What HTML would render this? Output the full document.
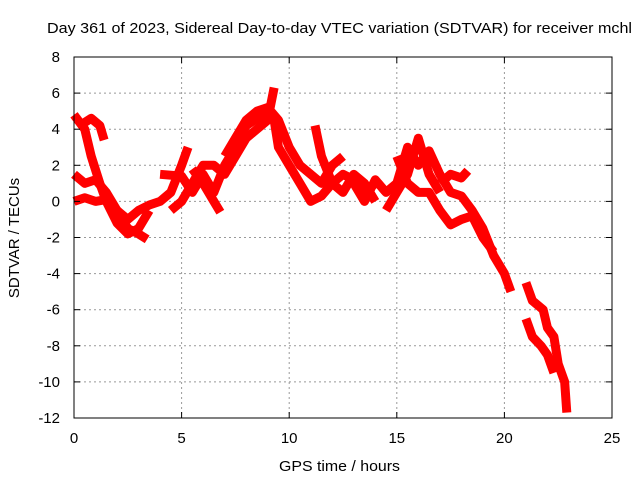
<!DOCTYPE html>
<html><head><meta charset="utf-8"><style>
body{margin:0;background:#fff}
svg{display:block;font-family:"Liberation Sans",sans-serif}
</style></head><body>
<svg id="chart" width="640" height="480">
<rect width="640" height="480" fill="#fff"/>
<g id="grid"></g>
<g id="series"></g>
<rect x="74" y="57" width="538" height="361" fill="none" stroke="#000" stroke-width="1"/>
<g id="ticks"></g>
<text x="47" y="33" textLength="585" lengthAdjust="spacingAndGlyphs" font-size="15">Day 361 of 2023, Sidereal Day-to-day VTEC variation (SDTVAR) for receiver mchl</text>
<text x="279" y="471" textLength="121" lengthAdjust="spacingAndGlyphs" font-size="15">GPS time / hours</text>
<text x="19" y="238" text-anchor="middle" font-size="15" transform="rotate(-90 19 238)">SDTVAR / TECUs</text>
</svg>
<script>
const xTicks=[0,5,10,15,20,25];
const yTicks=[8,6,4,2,0,-2,-4,-6,-8,-10,-12];
const arcA=[[0,4.8],[0.5,4],[0.8,2.5],[1.2,1],[1.5,0],[2,-1.2],[2.5,-1.8],[3,-1.5],[3.5,-0.5]];
const arcB=[[0.4,4.3],[0.8,4.6],[1.2,4.2],[1.4,3.4]];
const arcC=[[0,1.5],[0.5,1],[1,1.2],[1.5,0.5],[2,-0.5],[2.5,-1.5],[3,-1.8],[3.4,-2.1]];
const arcD=[[0,0],[0.5,0.2],[1,0],[1.5,0.1],[2,-0.5],[2.5,-1],[3,-0.5],[3.5,-0.2],[4,0],[4.5,0.5],[5,2],[5.3,3]];
const arcE=[[4,1.5],[5,1.4],[5.5,0.5],[6,1.5],[6.5,0.5],[7,2],[7.5,3],[8,4.2],[8.5,4.6],[9,4.8],[9.3,4.5],[9.5,3],[10,2],[10.5,1],[11,0],[11.5,0.3],[12,1],[12.5,1.5],[13,1.2],[13.5,0.5],[14,1]];
const arcF=[[4.5,-0.5],[5,0],[5.5,1],[6,2],[6.5,2],[7,1.5],[7.5,2.5],[8,3.5],[8.5,4],[9,4.5],[9.3,6.3]];
const arcG=[[5.5,1.8],[6,1],[6.5,0],[6.8,-0.6]];
const arcH=[[7,2.5],[7.5,3.5],[8,4.5],[8.5,5],[9,5.2],[9.5,4.5],[10,3],[10.5,2],[11,1.5],[11.5,1],[12,2],[12.5,2.5]];
const arcI=[[11.2,4.2],[11.5,2.5],[12,1],[12.5,0.5],[13,1.5],[13.5,1],[14,0]];
const arcJ=[[13,1],[13.5,0],[14,1.2],[14.5,0.5],[15,1],[15.5,3],[16,2],[16.5,2.8],[17,1.5],[17.5,0.5],[18,0.3],[18.5,-0.5],[19,-1.5],[19.5,-3],[20,-4],[20.3,-5]];
const arcK=[[15,2.5],[15.5,1],[16,0.5],[16.5,0.5],[17,-0.5],[17.5,-1.3],[18,-1],[18.5,-0.8],[19,-2],[19.5,-2.8]];
const arcL=[[17,1],[17.5,1.5],[18,1.3],[18.3,1.7]];
const arcM=[[14.5,-0.5],[15,0.5],[15.5,1.5],[16,3.5],[16.5,1.5],[17,0.5]];
const arcN=[[21,-4.5],[21.3,-5.5],[21.8,-6],[22,-7],[22.3,-7.5],[22.5,-9],[22.8,-10],[22.9,-11.7]];
const arcO=[[21,-6.5],[21.3,-7.5],[21.7,-8],[22,-8.5],[22.3,-9.5]];
const allArcs=[arcA,arcB,arcC,arcD,arcE,arcF,arcG,arcH,arcI,arcJ,arcK,arcL,arcM,arcN,arcO];
const NS="http://www.w3.org/2000/svg";
const X0=74,X1=612,Y0=418,Y1=57;
function xs(h){return X0+(h-0)/25*(X1-X0);}
function ys(v){return Y0-(v+12)/20*(Y0-Y1);}
const grid=document.getElementById('grid'),ticks=document.getElementById('ticks'),ser=document.getElementById('series');
function mk(t,a,p){const e=document.createElementNS(NS,t);for(const k in a)e.setAttribute(k,a[k]);p.appendChild(e);return e;}
xTicks.forEach(t=>{const x=xs(t);
 if(t>0&&t<25){const l=mk('line',{x1:x,x2:x,y1:Y1,y2:Y0,stroke:'#999','stroke-dasharray':'2,3'},grid);
 }
 mk('line',{x1:x,x2:x,y1:Y0,y2:Y0-6,stroke:'#000'},ticks);mk('line',{x1:x,x2:x,y1:Y1,y2:Y1+6,stroke:'#000'},ticks);
 const tx=mk('text',{x:x,y:Y0+25,'text-anchor':'middle','font-size':15},ticks);tx.textContent=t;
 });
yTicks.forEach(t=>{const y=ys(t);
 if(t>-12&&t<8){const l=mk('line',{x1:X0,x2:X1,y1:y,y2:y,stroke:'#999','stroke-dasharray':'2,3'},grid);
 }
 mk('line',{x1:X0,x2:X0+6,y1:y,y2:y,stroke:'#000'},ticks);mk('line',{x1:X1,x2:X1-6,y1:y,y2:y,stroke:'#000'},ticks);
 const tx=mk('text',{x:X0-14,y:y+5,'text-anchor':'end','font-size':15},ticks);tx.textContent=t;
 });
allArcs.forEach(arc=>{
 const p=mk('polyline',{points:arc.map(d=>xs(d[0])+','+ys(d[1])).join(' '),fill:'none',stroke:'#f00','stroke-width':9,'stroke-linejoin':'round','stroke-linecap':'butt'},ser);
 
 
});
</script>
</body></html>
